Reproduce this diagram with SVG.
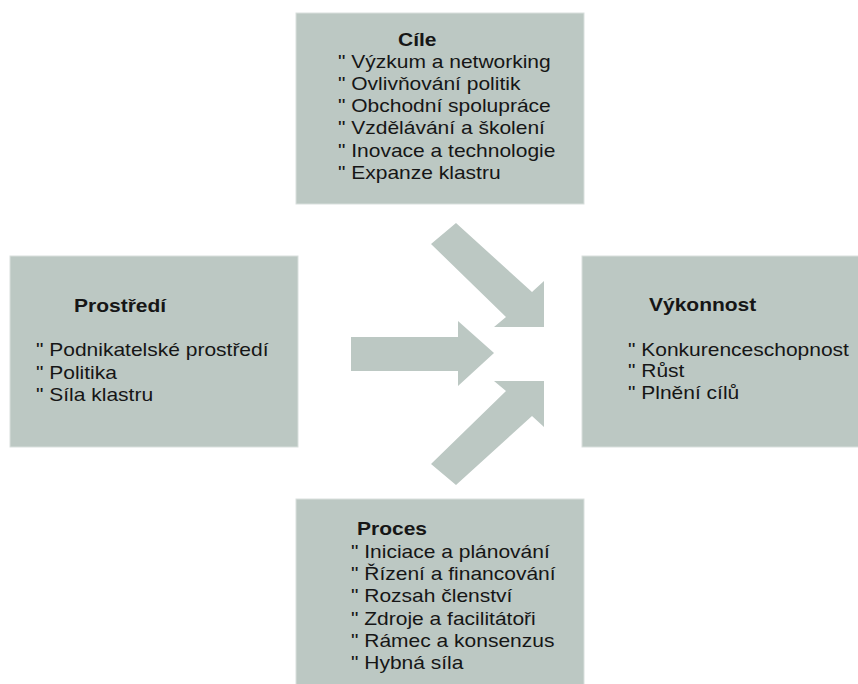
<svg xmlns="http://www.w3.org/2000/svg" width="858" height="684" viewBox="0 0 858 684">
<style>
.box{fill:#bcc8c3;stroke:#d9e0dd;stroke-width:1}
.arrow{fill:#bcc8c3}
text{font-family:"Liberation Sans",Arial,Helvetica,sans-serif;font-size:17.5px;fill:#161616}
.t{font-weight:bold}
</style>
<rect width="858" height="684" fill="#ffffff"/>
<g id="connectors">
<polygon class="arrow" points="456,223 532,292 544,281 544,327 494,327 506,317 431,244"/>
<polygon class="arrow" points="351,337 458,337 458,321 494,353 458,386 458,371 351,371"/>
<polygon class="arrow" points="456,485 532,416 544,427 544,381 494,381 506,391 431,464"/>
</g>
<g id="cile">
<rect class="box" x="296" y="13" width="288" height="191"/>
<text class="t" transform="translate(398,46) scale(1.2,1)">Cíle</text>
<text transform="translate(338,68) scale(1.2,1)">" Výzkum a networking</text>
<text transform="translate(338,90) scale(1.2,1)">" Ovlivňování politik</text>
<text transform="translate(338,112) scale(1.2,1)">" Obchodní spolupráce</text>
<text transform="translate(338,134) scale(1.2,1)">" Vzdělávání a školení</text>
<text transform="translate(338,157) scale(1.2,1)">" Inovace a technologie</text>
<text transform="translate(338,179) scale(1.2,1)">" Expanze klastru</text>
</g>
<g id="prostredi">
<rect class="box" x="10" y="256" width="288" height="191"/>
<text class="t" transform="translate(74,312) scale(1.2,1)">Prostředí</text>
<text transform="translate(36,356) scale(1.2,1)">" Podnikatelské prostředí</text>
<text transform="translate(36,379) scale(1.2,1)">" Politika</text>
<text transform="translate(36,401) scale(1.2,1)">" Síla klastru</text>
</g>
<g id="vykonnost">
<rect class="box" x="582" y="256" width="280" height="191"/>
<text class="t" transform="translate(649,311) scale(1.2,1)">Výkonnost</text>
<text transform="translate(628,356) scale(1.2,1)">" Konkurenceschopnost</text>
<text transform="translate(628,377) scale(1.2,1)">" Růst</text>
<text transform="translate(628,399) scale(1.2,1)">" Plnění cílů</text>
</g>
<g id="proces">
<rect class="box" x="296" y="499" width="288" height="190"/>
<text class="t" transform="translate(357,535) scale(1.2,1)">Proces</text>
<text transform="translate(351,558) scale(1.2,1)">" Iniciace a plánování</text>
<text transform="translate(351,580) scale(1.2,1)">" Řízení a financování</text>
<text transform="translate(351,602) scale(1.2,1)">" Rozsah členství</text>
<text transform="translate(351,625) scale(1.2,1)">" Zdroje a facilitátoři</text>
<text transform="translate(351,647) scale(1.2,1)">" Rámec a konsenzus</text>
<text transform="translate(351,669) scale(1.2,1)">" Hybná síla</text>
</g>
</svg>
